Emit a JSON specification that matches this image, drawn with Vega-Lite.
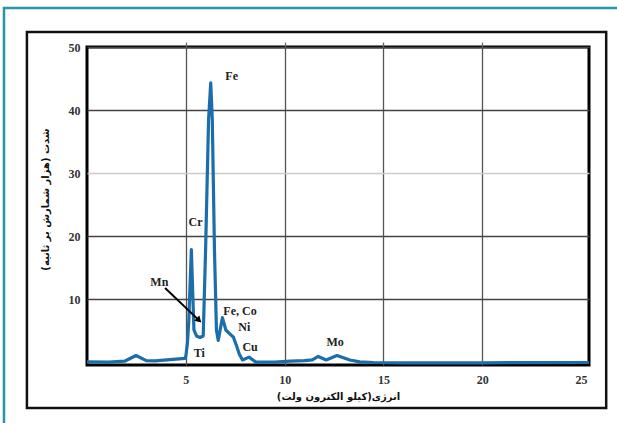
{
  "$schema": "https://vega.github.io/schema/vega-lite/v6.json",
  "width": 502,
  "height": 318,
  "autosize": "none",
  "padding": {"left": 87, "top": 47, "right": 28, "bottom": 58},
  "background": "#ffffff",
  "config": {
    "view": {"stroke": "#000000", "strokeWidth": 3},
    "axis": {
      "labelFont": "Liberation Serif",
      "labelFontWeight": "bold",
      "labelFontSize": 12,
      "labelColor": "#333333",
      "titleFont": "DejaVu Sans",
      "titleFontWeight": "bold",
      "titleFontSize": 10,
      "titleColor": "#111111"
    }
  },
  "datasets": {
    "spectrum": [
      {"x": 0.0, "y": 0.1},
      {"x": 1.1, "y": 0.05},
      {"x": 1.9, "y": 0.2},
      {"x": 2.48, "y": 1.1},
      {"x": 3.0, "y": 0.3},
      {"x": 3.45, "y": 0.25},
      {"x": 4.2, "y": 0.45},
      {"x": 4.95, "y": 0.65},
      {"x": 5.0, "y": 1.0},
      {"x": 5.08, "y": 3.0},
      {"x": 5.15, "y": 6.6},
      {"x": 5.28, "y": 17.9},
      {"x": 5.41, "y": 5.15},
      {"x": 5.54, "y": 4.2},
      {"x": 5.72, "y": 3.97},
      {"x": 5.88, "y": 4.2},
      {"x": 6.0, "y": 17.8},
      {"x": 6.15, "y": 38.4},
      {"x": 6.26, "y": 44.3},
      {"x": 6.34, "y": 38.4},
      {"x": 6.45, "y": 17.8},
      {"x": 6.55, "y": 5.1},
      {"x": 6.64, "y": 3.5},
      {"x": 6.85, "y": 7.1},
      {"x": 7.03, "y": 5.1},
      {"x": 7.24, "y": 4.5},
      {"x": 7.41, "y": 4.0},
      {"x": 7.57, "y": 2.6},
      {"x": 7.71, "y": 1.3},
      {"x": 7.87, "y": 0.4},
      {"x": 8.2, "y": 0.85},
      {"x": 8.55, "y": 0.05},
      {"x": 9.5, "y": 0.05},
      {"x": 10.3, "y": 0.2},
      {"x": 11.0, "y": 0.3},
      {"x": 11.4, "y": 0.4},
      {"x": 11.7, "y": 0.95},
      {"x": 12.1, "y": 0.4},
      {"x": 12.65, "y": 1.1},
      {"x": 13.3, "y": 0.4},
      {"x": 13.8, "y": 0.1},
      {"x": 14.5, "y": 0.0},
      {"x": 16.0, "y": -0.05},
      {"x": 20.0, "y": -0.05},
      {"x": 25.4, "y": 0.0}
    ],
    "labels": [
      {"label": "Fe", "x": 7.32, "y": 45.4},
      {"label": "Cr", "x": 5.49, "y": 22.2},
      {"label": "Mn", "x": 3.66, "y": 12.7},
      {"label": "Ti", "x": 5.68, "y": 1.45},
      {"label": "Fe, Co", "x": 7.74, "y": 8.2},
      {"label": "Ni", "x": 7.96, "y": 5.6},
      {"label": "Cu", "x": 8.25, "y": 2.4},
      {"label": "Mo", "x": 12.55, "y": 3.2}
    ],
    "arrow": [
      {"x": 3.95, "y": 11.8, "x2": 5.67, "y2": 6.67}
    ],
    "frameInner": [
      {"x": -3.04, "x2": 26.27, "y": 52.38, "y2": -7.21}
    ],
    "frameOuter": [
      {"x": -4.2, "x2": 27.5, "y": 56.18, "y2": -11.0}
    ]
  },
  "resolve": {"axis": {"x": "independent", "y": "independent"}},
  "layer": [
    {
      "data": {"name": "frameOuter"},
      "mark": {"type": "rect", "fill": "transparent", "stroke": "#2596a6", "strokeWidth": 2.5, "clip": false},
      "encoding": {
        "x": {"field": "x", "type": "quantitative", "scale": {"domain": [0, 25.4], "nice": false, "zero": false}, "axis": null},
        "x2": {"field": "x2"},
        "y": {"field": "y", "type": "quantitative", "scale": {"domain": [-0.4, 50], "nice": false, "zero": false}, "axis": null},
        "y2": {"field": "y2"}
      }
    },
    {
      "data": {"name": "frameInner"},
      "mark": {"type": "rect", "fill": "transparent", "stroke": "#111111", "strokeWidth": 2.5, "clip": false},
      "encoding": {
        "x": {"field": "x", "type": "quantitative", "scale": {"domain": [0, 25.4], "nice": false, "zero": false}, "axis": null},
        "x2": {"field": "x2"},
        "y": {"field": "y", "type": "quantitative", "scale": {"domain": [-0.4, 50], "nice": false, "zero": false}, "axis": null},
        "y2": {"field": "y2"}
      }
    },
    {
      "data": {"name": "spectrum"},
      "mark": {"type": "line", "color": "#1b6eab", "strokeWidth": 3.2, "strokeJoin": "round", "clip": false},
      "encoding": {
        "x": {
          "field": "x", "type": "quantitative",
          "scale": {"domain": [0, 25.4], "nice": false, "zero": false},
          "axis": {
            "orient": "bottom",
            "values": [5, 10, 15, 20, 25],
            "domain": false,
            "ticks": false,
            "tickSize": 0,
            "labelPadding": 9,
            "grid": true,
            "gridColor": {"condition": {"test": "datum.value === 25", "value": "transparent"}, "value": "#555555"},
            "gridWidth": 1.3,
            "title": "انرژی(کیلو الکترون ولت)",
            "titleX": 251,
            "titleY": 31,
            "titleBaseline": "middle",
            "titleAlign": "center"
          }
        },
        "y": {
          "field": "y", "type": "quantitative",
          "scale": {"domain": [-0.4, 50], "nice": false, "zero": false},
          "axis": {
            "orient": "left",
            "values": [10, 20, 30, 40, 50],
            "domain": false,
            "ticks": false,
            "tickSize": 0,
            "labelPadding": 7,
            "grid": true,
            "gridColor": {"condition": {"test": "datum.value === 30", "value": "#cccccc"}, "value": "#444444"},
            "gridWidth": 1.3,
            "title": "شدت (هزار شمارش بر ثانیه)",
            "titleAngle": -90,
            "titleX": -42,
            "titleY": 152,
            "titleBaseline": "middle",
            "titleAlign": "center"
          }
        }
      }
    },
    {
      "data": {"name": "arrow"},
      "mark": {"type": "rule", "color": "#000000", "strokeWidth": 2},
      "encoding": {
        "x": {"field": "x", "type": "quantitative", "scale": {"domain": [0, 25.4], "nice": false, "zero": false}, "axis": null},
        "x2": {"field": "x2"},
        "y": {"field": "y", "type": "quantitative", "scale": {"domain": [-0.4, 50], "nice": false, "zero": false}, "axis": null},
        "y2": {"field": "y2"}
      }
    },
    {
      "data": {"name": "arrow"},
      "mark": {"type": "point", "shape": "triangle-up", "filled": true, "color": "#000000", "opacity": 1, "size": 55, "angle": 134},
      "encoding": {
        "x": {"field": "x2", "type": "quantitative", "scale": {"domain": [0, 25.4], "nice": false, "zero": false}, "axis": null},
        "y": {"field": "y2", "type": "quantitative", "scale": {"domain": [-0.4, 50], "nice": false, "zero": false}, "axis": null}
      }
    },
    {
      "data": {"name": "labels"},
      "mark": {"type": "text", "font": "Liberation Serif", "fontWeight": "bold", "fontSize": 12, "color": "#222222", "align": "center", "baseline": "middle"},
      "encoding": {
        "x": {
          "field": "x", "type": "quantitative",
          "scale": {"domain": [0, 25.4], "nice": false, "zero": false},
          "axis": {
            "orient": "top",
            "values": [5, 10, 15, 20],
            "domain": false,
            "labels": false,
            "grid": false,
            "ticks": true,
            "tickSize": 5,
            "tickColor": "#666666",
            "tickWidth": 1.3,
            "title": null
          }
        },
        "y": {"field": "y", "type": "quantitative", "scale": {"domain": [-0.4, 50], "nice": false, "zero": false}, "axis": null},
        "text": {"field": "label"}
      }
    }
  ]
}
